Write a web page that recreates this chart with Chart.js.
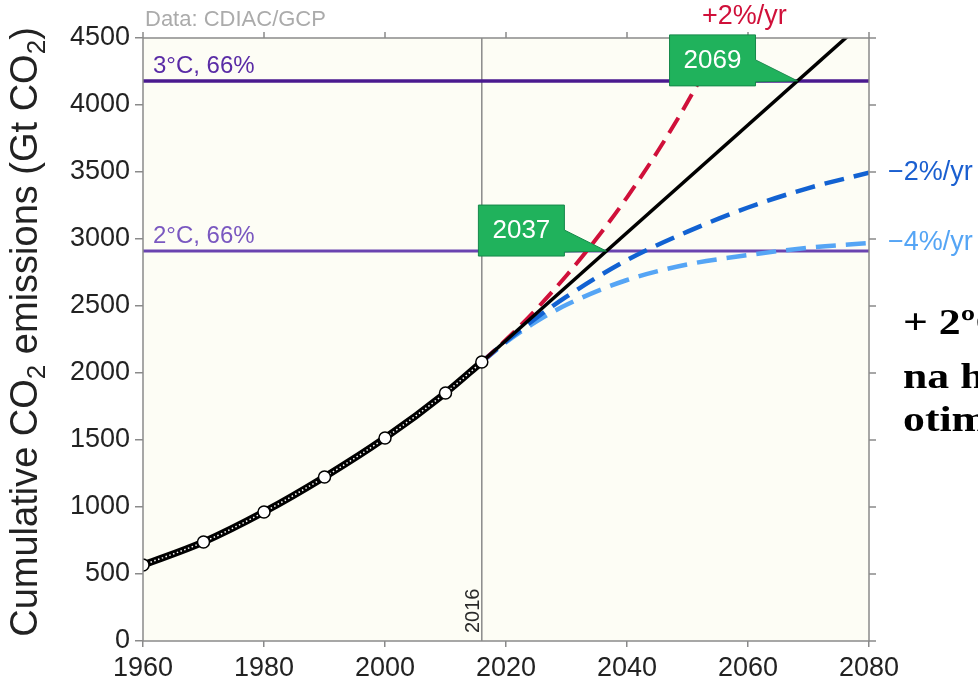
<!DOCTYPE html>
<html>
<head>
<meta charset="utf-8">
<script src="https://cdn.jsdelivr.net/npm/chart.js@4.4.1/dist/chart.umd.min.js"></script>
<style>
  html, body { margin: 0; background: #fff; }
  #wrap { width: 978px; height: 688px; position: relative; }
</style>
</head>
<body>
<div id="wrap"><canvas id="co2"></canvas></div>
<script>
// cumulative CO2 emissions, Gt CO2
const histYears = [1960, 1970, 1980, 1990, 2000, 2010, 2016];
const histValues = [567, 739, 963, 1224, 1515, 1851, 2082];

// constant emissions
const constYears = [2016, 2080];
const constValues = [2082, 4655];

// +2%/yr
const upYears = [2016, 2020, 2025, 2030, 2035, 2040, 2045, 2050, 2055];
const upValues = [2082, 2248, 2476, 2728, 3005, 3311, 3649, 4022, 4434];

// -2%/yr and -4%/yr
const downYears = [2016, 2020, 2025, 2030, 2040, 2050, 2060, 2070, 2080];
const down2Values = [2082, 2236, 2411, 2570, 2843, 3055, 3235, 3380, 3495];
const down4Values = [2082, 2230, 2383, 2509, 2694, 2810, 2880, 2935, 2970];

// carbon budgets
const budget3 = 4180;
const budget2 = 2910;
const nowYear = 2016;

const xTicks = [1960, 1980, 2000, 2020, 2040, 2060, 2080];
const yTicks = [0, 500, 1000, 1500, 2000, 2500, 3000, 3500, 4000, 4500];

const callouts = [
  { text: '2037', budget: budget2 },
  { text: '2069', budget: budget3 }
];

const pts = (xs, ys) => xs.map((x, i) => ({ x: x, y: ys[i] }));
const FONT = '"Liberation Sans", Arial, sans-serif';

// year where the constant-emissions line reaches a budget
function crossYear(b) {
  const slope = (constValues[1] - constValues[0]) / (constYears[1] - constYears[0]);
  return constYears[0] + (b - constValues[0]) / slope;
}

const decor = {
  id: 'decor',
  beforeDraw(chart) {
    const { ctx, chartArea: a } = chart;
    ctx.save();
    ctx.fillStyle = '#fdfdf5';
    ctx.fillRect(a.left, a.top, a.width, a.height);
    ctx.restore();
  },
  afterDatasetsDraw(chart) {
    const { ctx, chartArea: a } = chart;
    const xs = chart.scales.x, ys = chart.scales.y;
    ctx.save();

    // frame + ticks on top / right
    ctx.strokeStyle = '#8a8a8a';
    ctx.lineWidth = 1.5;
    ctx.strokeRect(a.left, a.top, a.width, a.height);
    ctx.beginPath();
    xTicks.forEach(v => {
      const px = xs.getPixelForValue(v);
      ctx.moveTo(px, a.top); ctx.lineTo(px, a.top - 6);
    });
    yTicks.forEach(v => {
      const py = ys.getPixelForValue(v);
      ctx.moveTo(a.right, py); ctx.lineTo(a.right + 7, py);
    });
    ctx.stroke();

    // budget labels
    ctx.textBaseline = 'alphabetic';
    ctx.textAlign = 'left';
    ctx.font = '24px ' + FONT;
    ctx.fillStyle = '#5a2ca6';
    ctx.fillText('3°C, 66%', a.left + 10, ys.getPixelForValue(budget3) - 8);
    ctx.fillStyle = '#7a58c0';
    ctx.fillText('2°C, 66%', a.left + 10, ys.getPixelForValue(budget2) - 8);

    // 2016 label
    ctx.save();
    ctx.translate(xs.getPixelForValue(nowYear) - 3, a.bottom - 8);
    ctx.rotate(-Math.PI / 2);
    ctx.font = '20px ' + FONT;
    ctx.fillStyle = '#2a2a2a';
    ctx.fillText(String(nowYear), 0, 0);
    ctx.restore();

    // scenario labels
    ctx.font = '27px ' + FONT;
    ctx.fillStyle = '#1a5fd0';
    ctx.textBaseline = 'middle';
    ctx.fillText('\u22122%/yr', a.right + 19, ys.getPixelForValue(down2Values[down2Values.length - 1]));
    ctx.fillStyle = '#55a5f5';
    ctx.fillText('\u22124%/yr', a.right + 19, ys.getPixelForValue(down4Values[down4Values.length - 1]));
    ctx.textBaseline = 'alphabetic';
    ctx.fillStyle = '#d0103a';
    ctx.font = '27px ' + FONT;
    ctx.fillText('+2%/yr', 702, 24);

    // data source
    ctx.fillStyle = '#ababab';
    ctx.font = '22px ' + FONT;
    ctx.fillText('Data: CDIAC/GCP', a.left + 2, 26);

    // callouts
    callouts.forEach(c => {
      const px = xs.getPixelForValue(crossYear(c.budget));
      const py = ys.getPixelForValue(c.budget);
      const right = px - 42, left = right - 86, bottom = py + 5, top = bottom - 51;
      ctx.beginPath();
      ctx.moveTo(left, top);
      ctx.lineTo(right, top);
      ctx.lineTo(right, top + 25);
      ctx.lineTo(px, py);
      ctx.lineTo(right, bottom - 4);
      ctx.lineTo(right, bottom);
      ctx.lineTo(left, bottom);
      ctx.closePath();
      ctx.fillStyle = '#20b25c';
      ctx.fill();
      ctx.strokeStyle = '#16884a';
      ctx.lineWidth = 1;
      ctx.stroke();
      ctx.fillStyle = '#fff';
      ctx.font = '26px ' + FONT;
      ctx.textAlign = 'center';
      ctx.textBaseline = 'middle';
      ctx.fillText(c.text, left + 43, top + 26);
      ctx.textAlign = 'left';
      ctx.textBaseline = 'alphabetic';
    });

    // y axis title with subscripts
    const parts = [['Cumulative CO', 0], ['2', 1], [' emissions (Gt CO', 0], ['2', 1], [')', 0]];
    const big = '38px ' + FONT, small = '26px ' + FONT;
    let total = 0;
    parts.forEach(p => { ctx.font = p[1] ? small : big; total += ctx.measureText(p[0]).width; });
    ctx.save();
    ctx.translate(37, 332);
    ctx.rotate(-Math.PI / 2);
    ctx.fillStyle = '#222';
    let cx = -total / 2;
    parts.forEach(p => {
      ctx.font = p[1] ? small : big;
      ctx.fillText(p[0], cx, p[1] ? 8 : 0);
      cx += ctx.measureText(p[0]).width;
    });
    ctx.restore();

    // slide text cut at the right edge
    ctx.save();
    ctx.fillStyle = '#000';
    ctx.font = 'bold 35px "Liberation Serif", "Times New Roman", serif';
    ctx.translate(903, 0);
    ctx.scale(1.25, 1);
    ctx.fillText('+ 2ºC', 0, 334);
    ctx.fillText('na hora', 0, 388);
    ctx.fillText('otimista', 0, 431);
    ctx.restore();

    ctx.restore();
  }
};

new Chart(document.getElementById('co2'), {
  type: 'line',
  data: {
    datasets: [
      {
        label: 'Hist markers',
        data: pts(histYears, histValues),
        showLine: false,
        pointRadius: 6,
        pointBackgroundColor: '#fff',
        pointBorderColor: '#000',
        pointBorderWidth: 1.5,
        order: 0
      },
      {
        label: 'Hist dots',
        data: pts(histYears, histValues),
        borderColor: '#fff',
        borderWidth: 1.5,
        borderDash: [1.5, 2.5],
        pointRadius: 0,
        cubicInterpolationMode: 'monotone',
        order: 1
      },
      {
        label: 'Historical',
        data: pts(histYears, histValues),
        borderColor: '#000',
        borderWidth: 7,
        pointRadius: 0,
        cubicInterpolationMode: 'monotone',
        order: 2
      },
      {
        label: 'Constant',
        data: pts(constYears, constValues),
        borderColor: '#000',
        borderWidth: 3.5,
        pointRadius: 0,
        order: 3
      },
      {
        label: '+2%/yr',
        data: pts(upYears, upValues),
        borderColor: '#d0103a',
        borderWidth: 4,
        borderDash: [18, 9],
        pointRadius: 0,
        cubicInterpolationMode: 'monotone',
        order: 4
      },
      {
        label: '-2%/yr',
        data: pts(downYears, down2Values),
        borderColor: '#1262d2',
        borderWidth: 4.5,
        borderDash: [20, 10],
        pointRadius: 0,
        cubicInterpolationMode: 'monotone',
        order: 5
      },
      {
        label: '-4%/yr',
        data: pts(downYears, down4Values),
        borderColor: '#55a5f5',
        borderWidth: 4.5,
        borderDash: [20, 10],
        pointRadius: 0,
        cubicInterpolationMode: 'monotone',
        order: 6
      },
      {
        label: '3C',
        data: pts([1960, 2080], [budget3, budget3]),
        borderColor: '#4a1a8f',
        borderWidth: 3.5,
        pointRadius: 0,
        order: 7
      },
      {
        label: '2C',
        data: pts([1960, 2080], [budget2, budget2]),
        borderColor: '#6a44b0',
        borderWidth: 3,
        pointRadius: 0,
        order: 8
      },
      {
        label: '2016',
        data: pts([nowYear, nowYear], [0, 4500]),
        borderColor: '#8a8a8a',
        borderWidth: 1.5,
        pointRadius: 0,
        order: 9
      }
    ]
  },
  options: {
    responsive: true,
    maintainAspectRatio: false,
    animation: false,
    layout: { padding: { top: 38, right: 109, left: 0, bottom: 0 } },
    plugins: { legend: { display: false }, tooltip: { enabled: false } },
    scales: {
      x: {
        type: 'linear',
        min: 1960,
        max: 2080,
        afterBuildTicks: s => { s.ticks = xTicks.map(v => ({ value: v })); },
        afterFit: s => { s.height = 47; },
        ticks: { color: '#222', font: { family: FONT, size: 27 }, padding: 5, maxRotation: 0, callback: v => String(v) },
        grid: { drawOnChartArea: false, tickLength: 6, color: '#8a8a8a', lineWidth: 1.5 },
        border: { display: false }
      },
      y: {
        min: 0,
        max: 4500,
        afterBuildTicks: s => { s.ticks = yTicks.map(v => ({ value: v })); },
        afterFit: s => { s.width = 143; },
        ticks: { color: '#222', font: { family: FONT, size: 27 }, padding: 5, callback: v => String(v) },
        grid: { drawOnChartArea: false, tickLength: 8, color: '#8a8a8a', lineWidth: 1.5 },
        border: { display: false }
      }
    }
  },
  plugins: [decor]
});
</script>
</body>
</html>
